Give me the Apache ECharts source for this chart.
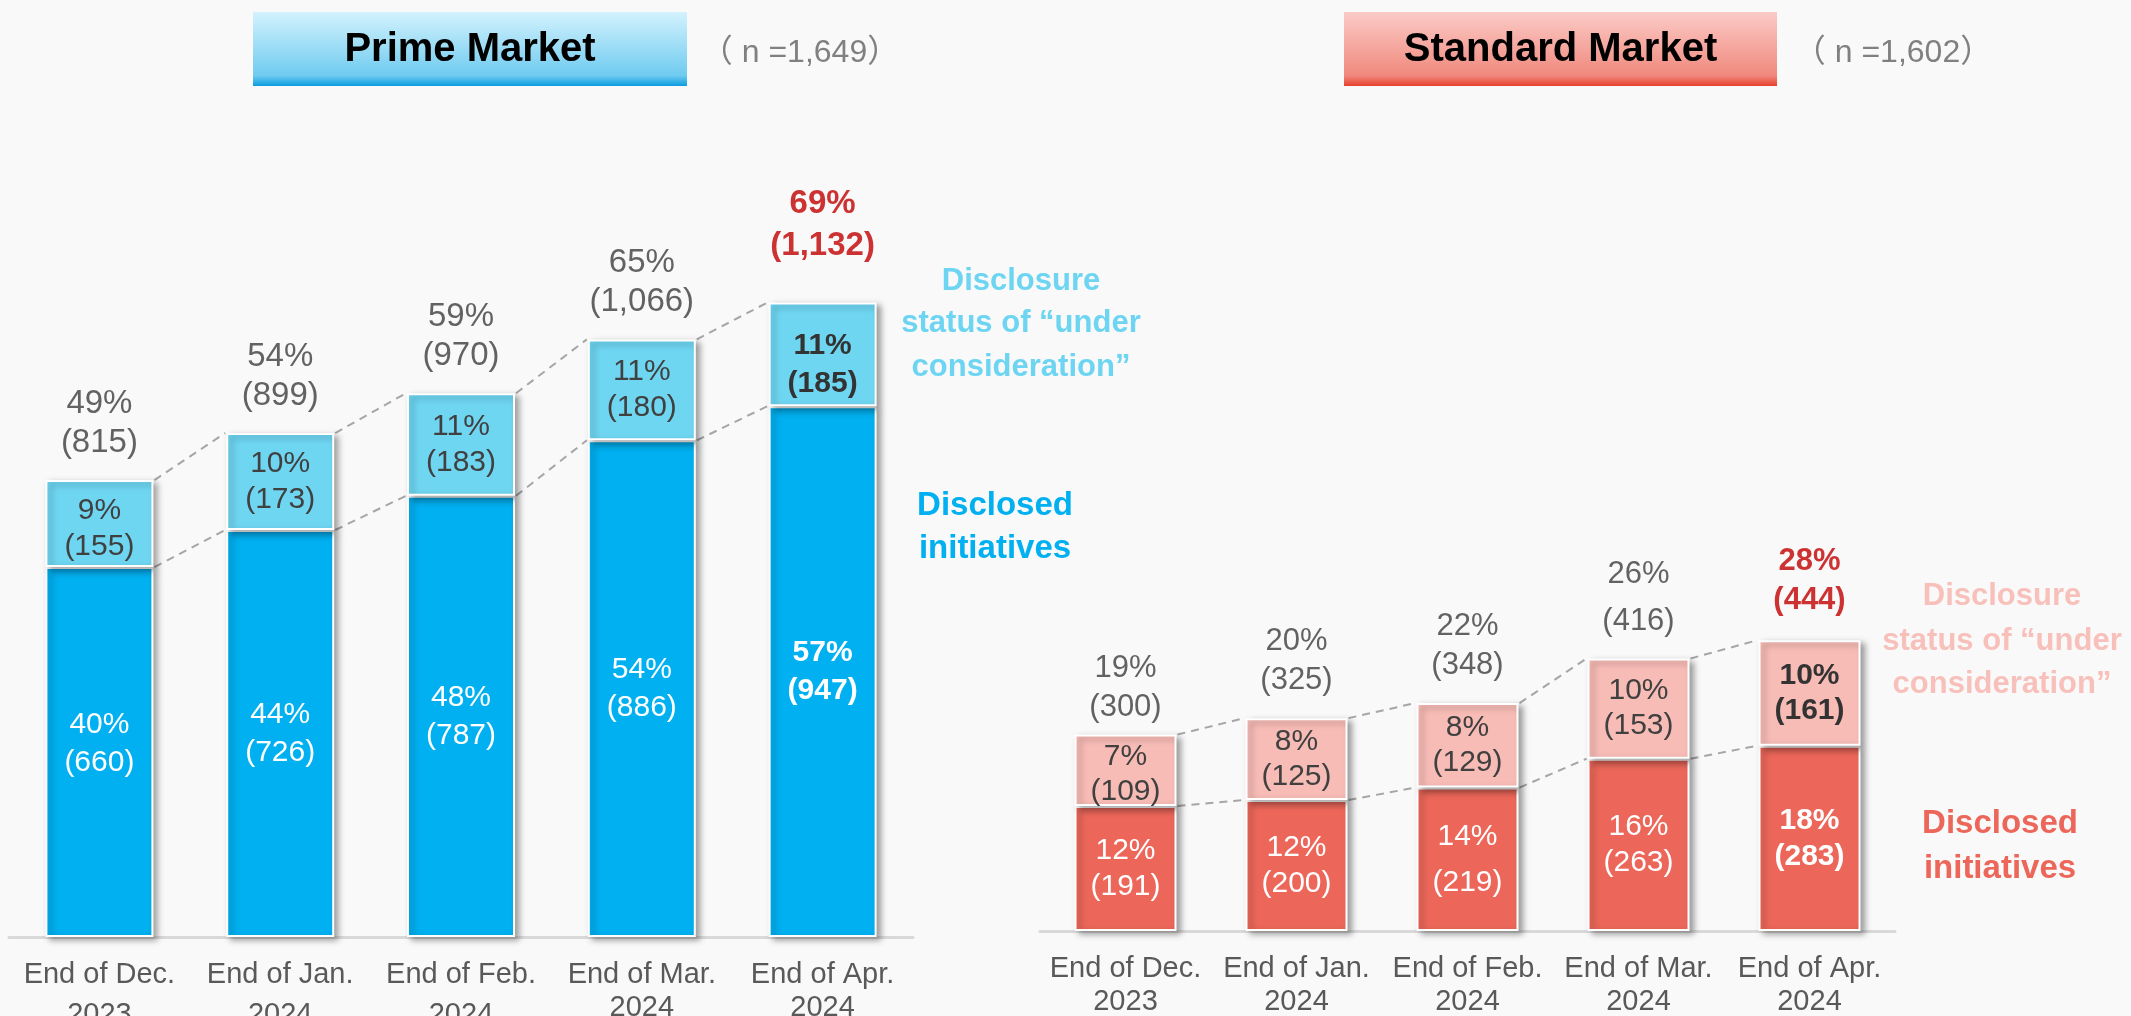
<!DOCTYPE html>
<html>
<head>
<meta charset="utf-8">
<script src="https://cdn.jsdelivr.net/npm/echarts@6/dist/echarts.min.js"></script>
<style>
html,body{margin:0;padding:0;background:#f9f9f9;}
#chart{width:2131px;height:1016px;}
</style>
</head>
<body>
<div id="chart"></div>
<script>
// ---------- data ----------
const categories = ['End of Dec.\n2023', 'End of Jan.\n2024', 'End of Feb.\n2024', 'End of Mar.\n2024', 'End of Apr.\n2024'];

const primeDisclosed = [660, 726, 787, 886, 947];
const primeConsider = [155, 173, 183, 180, 185];
const primeTotal = [815, 899, 970, 1066, 1132];
const primeDisclosedPct = [40, 44, 48, 54, 57];
const primeConsiderPct = [9, 10, 11, 11, 11];
const primeTotalPct = [49, 54, 59, 65, 69];
const primeN = '1,649';

const stdDisclosed = [191, 200, 219, 263, 283];
const stdConsider = [109, 125, 129, 153, 161];
const stdTotal = [300, 325, 348, 416, 444];
const stdDisclosedPct = [12, 12, 14, 16, 18];
const stdConsiderPct = [7, 8, 8, 10, 10];
const stdTotalPct = [19, 20, 22, 26, 28];
const stdN = '1,602';

// ---------- build ----------
const FONT = '"Liberation Sans", Arial, Helvetica, sans-serif';
const fmt = n => n.toLocaleString('en-US');
const LAST = categories.length - 1;

function marketSeries(idx, disclosed, consider, total, dPct, cPct, tPct, dark, light, barW, t) {
  const shadow = {borderColor: '#ffffff', borderWidth: 2, shadowColor: 'rgba(0,0,0,0.35)', shadowBlur: 6, shadowOffsetX: 4, shadowOffsetY: 3};
  const pairs = [];
  for (let i = 0; i < LAST; i++) {
    pairs.push([i, total[i], total[i + 1]]);
    pairs.push([i, disclosed[i], disclosed[i + 1]]);
  }
  const pick = (o, i) => (o && o[i]) || {};
  return [
    {
      type: 'custom', xAxisIndex: idx, yAxisIndex: idx, silent: true, z: 1,
      encode: {x: 0, y: [1, 2]},
      data: pairs,
      renderItem: (params, api) => {
        const i = api.value(0);
        const a = api.coord([i, api.value(1)]);
        const b = api.coord([i + 1, api.value(2)]);
        const h = barW / 2 + 1;
        return {type: 'line', shape: {x1: a[0] + h, y1: a[1], x2: b[0] - h, y2: b[1]},
          style: {stroke: '#a6a6a6', lineWidth: 2, lineDash: [8, 6]}};
      }
    },
    {
      type: 'bar', xAxisIndex: idx, yAxisIndex: idx, stack: 's' + idx, barWidth: barW, z: 2,
      data: disclosed.map((v, i) => ({value: v, label: Object.assign({fontWeight: i === LAST ? 'bold' : 'normal'}, pick(t.dLabel, i))})),
      itemStyle: Object.assign({color: dark}, shadow),
      label: {show: true, position: 'inside', color: '#ffffff', fontSize: 30, lineHeight: t.dLH, fontFamily: FONT,
        formatter: p => dPct[p.dataIndex] + '%\n(' + fmt(disclosed[p.dataIndex]) + ')'}
    },
    {
      type: 'bar', xAxisIndex: idx, yAxisIndex: idx, stack: 's' + idx, barWidth: barW, z: 2,
      data: consider.map((v, i) => ({value: v, label: Object.assign({fontWeight: i === LAST ? 'bold' : 'normal', color: i === LAST ? '#333333' : '#404040'}, pick(t.cLabel, i))})),
      itemStyle: Object.assign({color: light}, shadow),
      label: {show: true, position: 'inside', fontSize: 30, lineHeight: t.cLH, fontFamily: FONT,
        formatter: p => cPct[p.dataIndex] + '%\n(' + fmt(consider[p.dataIndex]) + ')'}
    },
    {
      type: 'scatter', xAxisIndex: idx, yAxisIndex: idx, symbolSize: 0, silent: true, z: 5,
      data: total.map((v, i) => ({value: [i, v], label: Object.assign(
        i === LAST ? {color: '#c00000', fontWeight: 'bold'} : {}, pick(t.tLabel, i))})),
      label: {show: true, position: 'top', distance: 18, color: '#3c3c3c', fontSize: t.tFS, lineHeight: 39, fontFamily: FONT,
        formatter: p => tPct[p.dataIndex] + '%\n(' + fmt(total[p.dataIndex]) + ')'}
    }
  ];
}

const labelText = {color: '#595959', fontSize: 29, fontFamily: FONT};
const axisX = (idx, margin, wideUpTo) => ({
  type: 'category', gridIndex: idx, data: categories,
  axisLine: {lineStyle: {color: '#d9d9d9', width: 3}},
  axisTick: {show: false},
  axisLabel: {
    color: '#595959', fontSize: 29, lineHeight: 33, margin: margin, fontFamily: FONT, interval: 0,
    formatter: (v, i) => {
      const parts = v.split('\n');
      return '{a|' + parts[0] + '}\n{' + (i < wideUpTo ? 'c' : 'a') + '|' + parts[1] + '}';
    },
    rich: {
      a: Object.assign({lineHeight: 33}, labelText),
      c: Object.assign({lineHeight: 48}, labelText)
    }
  }
});

const series = [].concat(
  marketSeries(0, primeDisclosed, primeConsider, primeTotal, primeDisclosedPct, primeConsiderPct, primeTotalPct,
    '#00b0f0', '#6fd6f2', 108, {
      dLH: 38, cLH: 36, tFS: 33,
      dLabel: {0: {offset: [0, -8]}},
      cLabel: {0: {offset: [0, 5]}, 4: {offset: [0, 10], lineHeight: 38}},
      tLabel: {4: {distance: 36, lineHeight: 42}}
    }),
  marketSeries(1, stdDisclosed, stdConsider, stdTotal, stdDisclosedPct, stdConsiderPct, stdTotalPct,
    '#ec675a', '#f8bcb6', 102, {
      dLH: 36, cLH: 35, tFS: 31,
      dLabel: {2: {lineHeight: 46}},
      cLabel: {0: {offset: [0, 4]}},
      tLabel: {0: {distance: 8}, 3: {lineHeight: 47, distance: 14}, 4: {distance: 20}}
    })
);

function titleBox(x, w, c0, c1, c2, title, nText, nx) {
  return [
    {type: 'rect', shape: {x: x, y: 12, width: w, height: 74}, silent: true,
      style: {fill: new echarts.graphic.LinearGradient(0, 0, 0, 1, [
        {offset: 0, color: c0}, {offset: 0.86, color: c1}, {offset: 1, color: c2}])}},
    {type: 'text', x: x + w / 2, y: 50, silent: true,
      style: {text: title, font: 'bold 40px ' + FONT, fill: '#000000', align: 'center', verticalAlign: 'middle'}},
    {type: 'text', x: nx, y: 53, silent: true,
      style: {text: '（ n =' + nText + '）', font: '32px "Liberation Sans", "Noto Sans CJK JP", sans-serif', fill: '#808080', align: 'center', verticalAlign: 'middle'}}
  ];
}

function legendLines(cx, lines, color, fontSize) {
  return lines.map(l => ({type: 'text', x: cx, y: l[1] - 0.35 * fontSize, silent: true,
    style: {text: l[0], font: 'bold ' + fontSize + 'px ' + FONT, fill: color, align: 'center', verticalAlign: 'middle'}}));
}

const graphics = [].concat(
  titleBox(253, 434, '#d3f2fd', '#6fcbf0', '#0a9de0', 'Prime Market', primeN, 800),
  titleBox(1344, 433, '#fbcbc7', '#f0897d', '#e8402d', 'Standard Market', stdN, 1893),
  legendLines(1021, [['Disclosure', 292], ['status of \u201Cunder', 334], ['consideration\u201D', 378]], '#6dd5f2', 31),
  legendLines(995, [['Disclosed', 517], ['initiatives', 560]], '#00b0f0', 33),
  legendLines(2002, [['Disclosure', 607], ['status of \u201Cunder', 652], ['consideration\u201D', 695]], '#f8c0ba', 31),
  legendLines(2000, [['Disclosed', 835], ['initiatives', 880]], '#ec675a', 33)
);

const chart = echarts.init(document.getElementById('chart'), null, {renderer: 'canvas'});
chart.setOption({
  backgroundColor: '#f9f9f9',
  animation: false,
  grid: [
    {left: 9, width: 904, top: 264.3, height: 672.7, containLabel: false, outerBoundsMode: 'none'},
    {left: 1040, width: 855, top: 603.5, height: 327.5, containLabel: false, outerBoundsMode: 'none'}
  ],
  xAxis: [axisX(0, 21, 3), axisX(1, 21, 0)],
  yAxis: [
    {type: 'value', gridIndex: 0, min: 0, max: 1200, show: false},
    {type: 'value', gridIndex: 1, min: 0, max: 500, show: false}
  ],
  graphic: {elements: graphics},
  series: series
});
</script>
</body>
</html>
